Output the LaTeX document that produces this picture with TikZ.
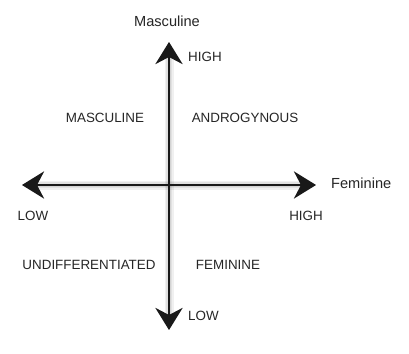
\documentclass[tikz,border=0pt]{standalone}
\usepackage{fontspec}
\setmainfont{Liberation Sans}
\usetikzlibrary{arrows.meta}

\tikzset{
  axis/.style={line width=2.6pt, black!90,
    {Stealth[length=22pt,width=27pt,inset=7pt]}-{Stealth[length=22pt,width=27pt,inset=7pt]}},
  axshade/.style={line width=#1, black, opacity=0.06,
    {Stealth[length=22pt,width=27pt,inset=7pt]}-{Stealth[length=22pt,width=27pt,inset=7pt]}},
  caps/.style={font=\fontsize{13.4}{15}\selectfont, text=black!85, inner sep=1pt},
  dimname/.style={font=\fontsize{14.6}{16}\selectfont, text=black!85, inner sep=1pt}
}

\begin{document}
\begin{tikzpicture}[x=1pt,y=-1pt]
\useasboundingbox [fill=white] (0,0) rectangle (409,353);

% axis end points
\coordinate (T) at (169,42);
\coordinate (B) at (169,330);
\coordinate (L) at (22,185);
\coordinate (R) at (316,185);

% soft shadow of the axes
\begin{scope}[shift={(4,5)}]
\foreach \w in {9pt,6pt,3pt}
{
\draw [axshade=\w] (T) -- (B);
\draw [axshade=\w] (L) -- (R);
}
\end{scope}

\draw [axis] (B) -- (T);
\draw [axis] (L) -- (R);

% axis titles and ends
\node [dimname] (mtitle) at (167,21) {Masculine};
\node [dimname, anchor=west] (ftitle) at (330,183) {Feminine};
\node [caps, anchor=west] (mhigh) at (187,57) {HIGH};
\node [caps, anchor=west] (mlow) at (187,316) {LOW};
\node [caps] (flow) at (33,216) {LOW};
\node [caps] (fhigh) at (306,216) {HIGH};

% quadrants
\node [caps] (masc) at (105,118) {MASCULINE};
\node [caps] (andro) at (245,118) {ANDROGYNOUS};
\node [caps] (undiff) at (89,265) {UNDIFFERENTIATED};
\node [caps] (fem) at (228,265) {FEMININE};
\end{tikzpicture}
\end{document}
